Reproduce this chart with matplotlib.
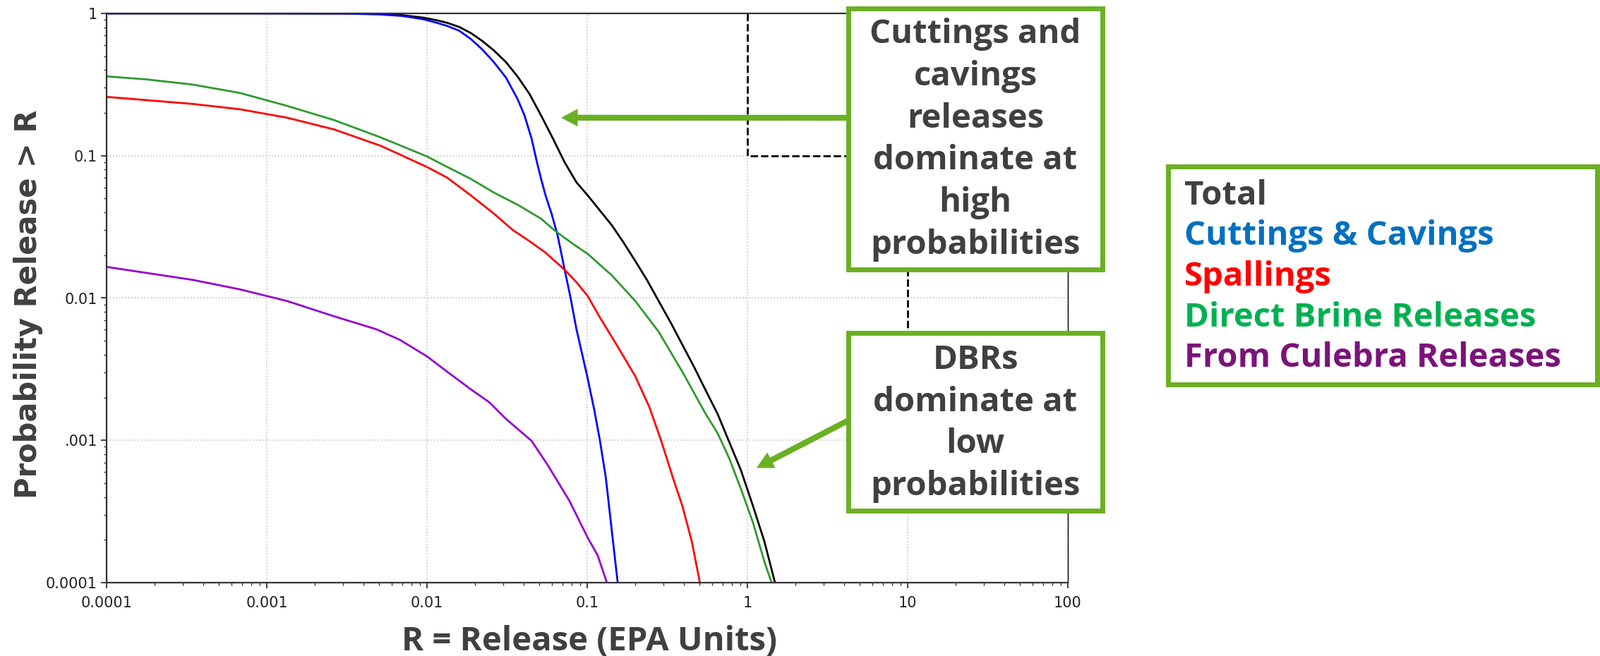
import numpy as np
import matplotlib
matplotlib.use("Agg")
import matplotlib.pyplot as plt
from matplotlib.patches import Rectangle, FancyArrowPatch
from matplotlib.ticker import FixedLocator, FixedFormatter, NullFormatter, LogLocator

# CCDF curves (release R, probability release > R)
total_r = [1e-4, 1e-3, 3e-3, 5e-3, 7e-3, 0.00951, 0.01127, 0.01334, 0.01585, 0.0187, 0.0221,
           0.0262, 0.0311, 0.0367, 0.0436, 0.0515, 0.0611, 0.0723, 0.0857, 0.1009, 0.120,
           0.1426, 0.168, 0.1995, 0.236, 0.270, 0.331, 0.392, 0.4645, 0.5495, 0.652, 0.771,
           0.912, 1.081, 1.276, 1.486]
total_p = [1.0, 1.0, 0.998, 0.99, 0.972, 0.933, 0.900, 0.859, 0.804, 0.730, 0.641,
           0.548, 0.455, 0.361, 0.272, 0.192, 0.132, 0.0899, 0.065, 0.0525, 0.0412,
           0.0324, 0.0247, 0.0182, 0.0134, 0.0102, 0.00676, 0.00471, 0.00328, 0.00224, 0.00153,
           0.00097, 0.000615, 0.000348, 0.000195, 0.0001]

cuttings_r = [1e-4, 1e-3, 3e-3, 5e-3, 7e-3, 0.00951, 0.01127, 0.01334, 0.01585, 0.0187, 0.0221,
              0.0262, 0.0311, 0.0367, 0.0406, 0.045, 0.0482, 0.0515, 0.055, 0.060, 0.0653,
              0.0723, 0.0785, 0.0857, 0.1, 0.1104, 0.12, 0.1306, 0.142, 0.155]
cuttings_p = [1.0, 1.0, 0.997, 0.985, 0.96, 0.910, 0.865, 0.817, 0.757, 0.663, 0.559,
              0.453, 0.354, 0.251, 0.192, 0.1315, 0.0933, 0.0689, 0.0525, 0.0389, 0.0277,
              0.0158, 0.0102, 0.00603, 0.00282, 0.00166, 0.001, 0.00055, 0.000238, 0.0001]

spall_r = [1e-4, 1.76e-4, 3.46e-4, 6.8e-4, 1.337e-3, 2.63e-3, 5.18e-3, 0.01, 0.01334, 0.0187,
           0.0262, 0.0344, 0.0436, 0.055, 0.0723, 0.0857, 0.1009, 0.12, 0.157, 0.1995, 0.244,
           0.289, 0.342, 0.392, 0.449, 0.505]
spall_p = [0.259, 0.246, 0.231, 0.212, 0.185, 0.153, 0.117, 0.0833, 0.0702, 0.0528,
           0.0391, 0.030, 0.0251, 0.0208, 0.0158, 0.0129, 0.0103, 0.0073, 0.00445, 0.00282, 0.00172,
           0.001, 0.00055, 0.000348, 0.000196, 0.0001]

dbr_r = [1e-4, 1.76e-4, 3.46e-4, 6.8e-4, 1.337e-3, 2.63e-3, 5.18e-3, 0.01, 0.01334, 0.0187,
         0.0262, 0.0367, 0.0515, 0.0634, 0.0828, 0.1009, 0.1426, 0.1995, 0.279, 0.392, 0.5495,
         0.652, 0.771, 0.912, 1.081, 1.28, 1.416]
dbr_p = [0.361, 0.344, 0.316, 0.276, 0.224, 0.178, 0.134, 0.0988, 0.0835, 0.0689,
         0.055, 0.0453, 0.0361, 0.0295, 0.0237, 0.0204, 0.0144, 0.00953, 0.0058, 0.00304, 0.00153,
         0.00112, 0.000745, 0.000454, 0.000266, 0.000139, 0.0001]

culebra_r = [1e-4, 1.76e-4, 3.46e-4, 6.8e-4, 1.337e-3, 2.63e-3, 4.83e-3, 6.78e-3, 0.01, 0.01334,
             0.0187, 0.0245, 0.031, 0.045, 0.057, 0.0775, 0.1014, 0.1161, 0.1327]
culebra_p = [0.01655, 0.01503, 0.0134, 0.0115, 0.00953, 0.00744, 0.00603, 0.00508, 0.00389,
             0.00304, 0.00229, 0.00185, 0.00142, 0.00099, 0.000664, 0.000375, 0.000204,
             0.000156, 0.0001]

# EPA release limit step
limit_r = [1, 1, 10, 10, 100]
limit_p = [1, 0.1, 0.1, 0.001, 0.001]

x_ticks = [1e-4, 1e-3, 1e-2, 1e-1, 1, 10, 100]
x_labels = ["0.0001", "0.001", "0.01", "0.1", "1", "10", "100"]
y_ticks = [1e-4, 1e-3, 1e-2, 1e-1, 1]
y_labels = ["0.0001", ".001", "0.01", "0.1", "1"]

legend_names = ["Total", "Cuttings & Cavings", "Spallings", "Direct Brine Releases",
                "From Culebra Releases"]
legend_colors = ["#404040", "#0070c0", "#ff0000", "#00b050", "#7b1379"]

note_high = "Cuttings and\ncavings\nreleases\ndominate at\nhigh\nprobabilities"
note_low = "DBRs\ndominate at\nlow\nprobabilities"

W, H = 2267, 930
GREEN = "#6ab023"
GREY = "#404040"

fig = plt.figure(figsize=(W / 100, H / 100), dpi=100)
ax = fig.add_axes([151 / W, 1 - 826 / H, (1513 - 151) / W, (826 - 19) / H])

ax.plot(total_r, total_p, color="black", lw=2)
ax.plot(cuttings_r, cuttings_p, color="#0000ff", lw=2)
ax.plot(spall_r, spall_p, color="#ff0000", lw=2)
ax.plot(dbr_r, dbr_p, color="#2e9a2e", lw=2)
ax.plot(culebra_r, culebra_p, color="#9400d3", lw=2)
ax.plot(limit_r, limit_p, color="black", lw=2, ls="--")

ax.set_xscale("log")
ax.set_yscale("log")
ax.set_xlim(1e-4, 100)
ax.set_ylim(1e-4, 1)

ax.xaxis.set_major_locator(FixedLocator(x_ticks))
ax.xaxis.set_major_formatter(FixedFormatter(x_labels))
ax.yaxis.set_major_locator(FixedLocator(y_ticks))
ax.yaxis.set_major_formatter(FixedFormatter(y_labels))
ax.xaxis.set_minor_locator(LogLocator(base=10, subs=np.arange(2, 10), numticks=20))
ax.yaxis.set_minor_locator(LogLocator(base=10, subs=np.arange(2, 10), numticks=20))
ax.xaxis.set_minor_formatter(NullFormatter())
ax.yaxis.set_minor_formatter(NullFormatter())

ax.tick_params(which="major", length=6, width=1.3, labelsize=15, color="#333333",
               labelcolor="#222222")
ax.tick_params(which="minor", length=3, width=1.0, color="#333333")
ax.tick_params(axis="x", pad=8)
ax.grid(True, which="major", color="#c4c4c4", ls=":", lw=1.2)
for side in ["left", "bottom", "top"]:
    ax.spines[side].set_linewidth(1.6)
    ax.spines[side].set_color("#333333")
ax.spines["right"].set_linewidth(1.0)

fig.text(40 / W, 1 - 431 / H, "Probability Release > R", rotation=90, ha="center",
         va="center", fontsize=30, fontweight="bold", family="DejaVu Sans", color=GREY)
fig.text(835 / W, 1 - 922 / H, "R = Release (EPA Units)", ha="center", va="baseline",
         fontsize=34, fontweight="bold", family="Open Sans", color=GREY)

# annotation boxes
for (x0, y0, x1, y1) in [(1202, 12, 1562, 382), (1202, 472, 1562, 724), (1655, 236, 2263, 545)]:
    fig.add_artist(Rectangle((x0 / W, 1 - y1 / H), (x1 - x0) / W, (y1 - y0) / H,
                             transform=fig.transFigure, facecolor="white",
                             edgecolor=GREEN, lw=5, zorder=5))

fig.text(1382 / W, 1 - 198 / H, note_high, ha="center", va="center", multialignment="center",
         fontsize=34, fontweight="bold", family="Open Sans", color=GREY, linespacing=1.36,
         zorder=6)
fig.text(1382 / W, 1 - 600 / H, note_low, ha="center", va="center", multialignment="center",
         fontsize=34, fontweight="bold", family="Open Sans", color=GREY, linespacing=1.36,
         zorder=6)

for i, (name, col) in enumerate(zip(legend_names, legend_colors)):
    fig.text(1678 / W, 1 - (290 + 57.5 * i) / H, name, ha="left", va="baseline",
             fontsize=34, fontweight="bold", family="Open Sans", color=col, zorder=6)

# arrows from the boxes to the curves
arrow_style = "simple,head_length=0.85,head_width=0.9,tail_width=0.3"
for tip, tail in [((0.0687, 0.185), (1202, 167)), ((1.14, 0.00064), (1202, 596))]:
    arr = FancyArrowPatch(posA=(tail[0], H - tail[1]), posB=ax.transData.transform(tip),
                          transform=None, arrowstyle=arrow_style, mutation_scale=20,
                          color=GREEN, lw=0, shrinkA=0, shrinkB=0, zorder=4)
    fig.add_artist(arr)

fig.savefig("out.png", dpi=100)
